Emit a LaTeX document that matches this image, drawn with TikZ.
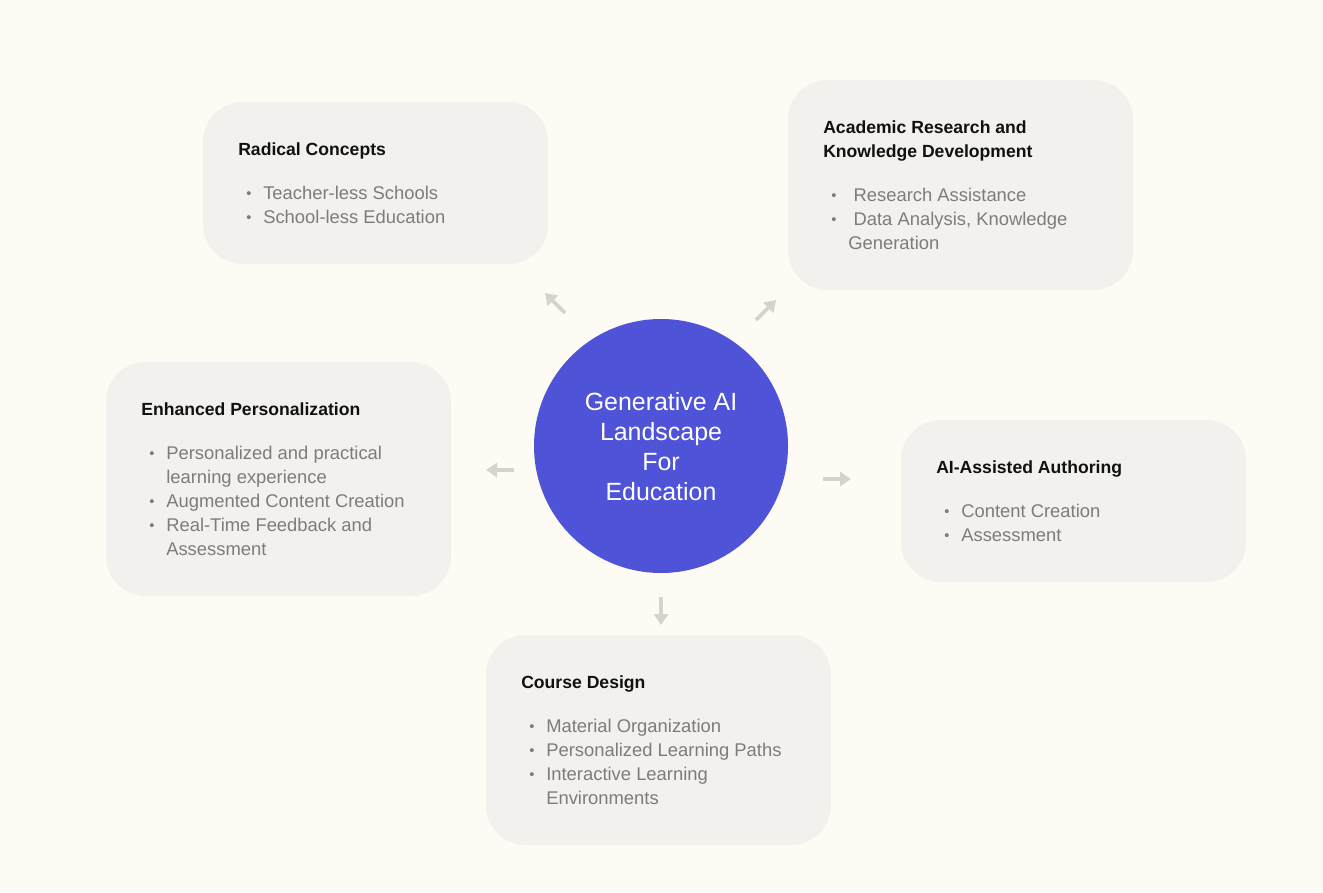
\documentclass[tikz,border=0pt]{standalone}
\usepackage{fontspec}
\setmainfont{Liberation Sans}
\usetikzlibrary{arrows.meta}
\definecolor{bgc}{RGB}{254,251,244}
\definecolor{boxc}{RGB}{242,241,237}
\definecolor{circc}{RGB}{79,83,215}
\definecolor{titc}{RGB}{17,17,17}
\definecolor{bodyc}{RGB}{125,124,120}
\definecolor{arrc}{RGB}{214,211,204}
\newcommand{\bt}{\makebox[12.75pt][l]{\fontsize{11}{18}\selectfont\raisebox{0.3pt}{•}}}
\newcommand{\nb}{\hspace{12.75pt}}
\tikzset{
  card/.style={fill=boxc, draw=none, rounded corners=30pt, minimum width=258.75pt, inner sep=0pt},
  cardtitle/.style={anchor=base west, inner sep=0pt, text=titc, font=\fontsize{13.2}{18}\selectfont\bfseries},
  cardbody/.style={anchor=base west, inner sep=0pt, text=bodyc, font=\fontsize{13.8}{18}\selectfont},
  hub/.style={circle, fill=circc, minimum size=190.5pt, inner sep=0pt},
  hubtext/.style={text=white, align=center, font=\fontsize{18.7}{22.5}\selectfont, inner sep=0pt},
  arr/.style={draw=arrc, line width=2.7pt, -{Triangle[length=8.25pt,width=10.5pt]}}
}
\begin{document}
\begin{tikzpicture}[x=0.75pt,y=-0.75pt]
\fill[bgc] (0,0) rectangle (1323,892);
\useasboundingbox (0,0) rectangle (1323,892);

% cards
\node[card, minimum height=121.5pt] (rad) at (375.5,183) {};
\node[card, minimum height=157.5pt] (acad) at (960.5,185) {};
\node[card, minimum height=175.5pt] (enh) at (278.5,479) {};
\node[card, minimum height=121.5pt] (aia) at (1073.5,501) {};
\node[card, minimum height=157.5pt] (cour) at (658.5,740) {};

% hub
\node[hub] (hub) at (661,446) {};
\node[hubtext] (hubt) at (661,447) {Generative AI\\Landscape\\For\\Education};

% Radical Concepts
\node[cardtitle] (radt) at (238,155) {Radical Concepts};
\node[cardbody] (radb) at (246,199) {\begin{tabular}[t]{@{}l@{}}
\bt Teacher-less Schools\\
\bt School-less Education
\end{tabular}};

% Academic
\node[cardtitle] (acadt) at (823,133) {\begin{tabular}[t]{@{}l@{}}Academic Research and\\Knowledge Development\end{tabular}};
\node[cardbody] (acadb) at (831,201) {\begin{tabular}[t]{@{}l@{}}
\bt\hspace{4pt}Research Assistance\\
\bt\hspace{4pt}Data Analysis, Knowledge\\
\hspace{12.75pt}Generation
\end{tabular}};

% Enhanced
\node[cardtitle] (enht) at (141,415) {Enhanced Personalization};
\node[cardbody] (enhb) at (149,459) {\begin{tabular}[t]{@{}l@{}}
\bt Personalized and practical\\
\nb learning experience\\
\bt Augmented Content Creation\\
\bt Real-Time Feedback and\\
\nb Assessment
\end{tabular}};

% AI-Assisted
\node[cardtitle] (aiat) at (936,473) {AI-Assisted Authoring};
\node[cardbody] (aiab) at (944,517) {\begin{tabular}[t]{@{}l@{}}
\bt Content Creation\\
\bt Assessment
\end{tabular}};

% Course
\node[cardtitle] (court) at (521,688) {Course Design};
\node[cardbody] (courb) at (529,732) {\begin{tabular}[t]{@{}l@{}}
\bt Material Organization\\
\bt Personalized Learning Paths\\
\bt Interactive Learning\\
\nb Environments
\end{tabular}};

% arrows
\coordinate (a1s) at (565,313); \coordinate (a1e) at (545,293);
\coordinate (a2s) at (756,320); \coordinate (a2e) at (776,300);
\coordinate (a3s) at (514,470); \coordinate (a3e) at (486,470);
\coordinate (a4s) at (823,479); \coordinate (a4e) at (851,479);
\coordinate (a5s) at (661,597); \coordinate (a5e) at (661,625);
\draw[arr] (a1s) -- (a1e);
\draw[arr] (a2s) -- (a2e);
\draw[arr] (a3s) -- (a3e);
\draw[arr] (a4s) -- (a4e);
\draw[arr] (a5s) -- (a5e);
\end{tikzpicture}
\end{document}
